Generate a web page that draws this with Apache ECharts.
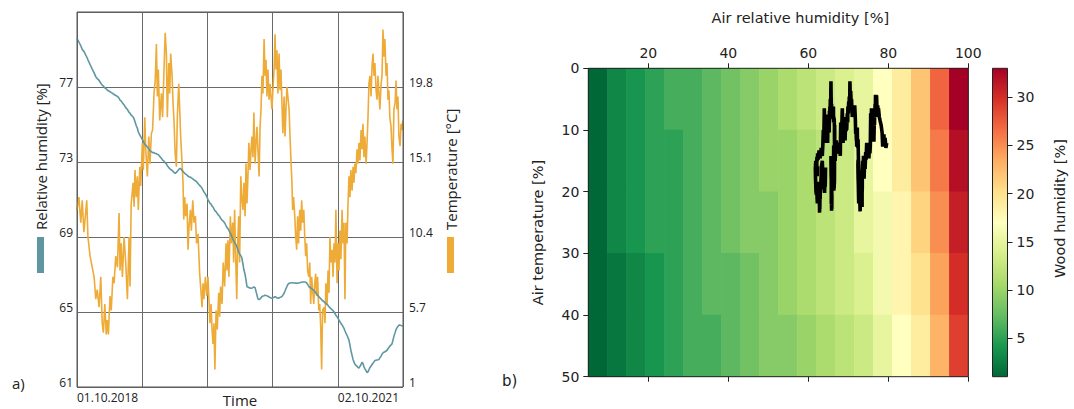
<!DOCTYPE html>
<html>
<head>
<meta charset="utf-8">
<title>Relative humidity, temperature and wood humidity</title>
<script src="https://cdn.jsdelivr.net/npm/echarts@6.0.0/dist/echarts.min.js"></script>
<style>
  html, body { margin: 0; padding: 0; background: #fff; }
  #chart { width: 1074px; height: 409px; }
</style>
</head>
<body>
<div id="chart"></div>
<script>
// ---- a) time series: days since 01.10.2018, relative humidity [%], temperature [°C]
const days = [
  0, 8, 16, 22, 29, 41, 46, 55, 64, 72, 79, 85, 93, 100, 106, 111, 117, 123, 127, 132,
  139, 144, 151, 156, 163, 170, 177, 181, 186, 191, 198, 205, 212, 219, 223, 228, 236, 240, 244, 249,
  254, 258, 264, 268, 275, 279, 285, 289, 296, 302, 307, 313, 318, 324, 329, 334, 338, 342, 348, 355,
  360, 366, 371, 376, 380, 386, 390, 394, 400, 404, 408, 413, 418, 422, 428, 432, 436, 442, 446, 449,
  453, 457, 463, 467, 471, 477, 481, 487, 492, 498, 503, 509, 516, 520, 526, 530, 534, 540, 546, 551,
  555, 559, 564, 568, 572, 576, 580, 585, 590, 596, 600, 604, 610, 615, 621, 627, 631, 635, 639, 645,
  649, 655, 659, 663, 668, 672, 676, 680, 684, 689, 693, 698, 702, 707, 711, 715, 719, 723, 728, 732,
  736, 740, 744, 749, 753, 757, 761, 766, 770, 774, 778, 782, 787, 791, 795, 799, 803, 808, 812, 816,
  820, 824, 829, 833, 837, 841, 845, 850, 854, 858, 862, 866, 871, 875, 879, 883, 887, 892, 896, 900,
  904, 907, 911, 916, 920, 924, 928, 932, 937, 941, 945, 949, 954, 958, 962, 966, 970, 975, 979, 983,
  987, 991, 996, 1000, 1004, 1008, 1012, 1017, 1021, 1025, 1029, 1033, 1039, 1043, 1047, 1052, 1056, 1060, 1064, 1068,
  1073, 1077, 1081, 1085, 1089, 1094, 1098, 1102, 1106, 1110, 1115, 1119, 1123, 1127, 1131, 1136, 1140, 1144, 1148, 1152,
  1157, 1161, 1165, 1169, 1173, 1178, 1182, 1186, 1190, 1195, 1199, 1203, 1207, 1211, 1216, 1220, 1224, 1228, 1232, 1237,
  1241, 1245, 1249, 1253, 1258, 1262, 1266, 1270, 1274, 1279, 1283, 1287, 1291, 1295, 1300, 1304, 1308, 1312, 1316, 1321,
  1325, 1329, 1333, 1338, 1342, 1346, 1350, 1354, 1359, 1363, 1367, 1370
];
const relHumidity = [
  79.6, 79.4, 79.2, 79.0, 78.9, 78.6, 78.45, 78.2, 77.95, 77.75, 77.55, 77.45, 77.35, 77.2, 77.1, 77.05, 76.95, 76.9, 76.85, 76.8,
  76.75, 76.7, 76.65, 76.6, 76.55, 76.5, 76.4, 76.3, 76.25, 76.15, 76.05, 75.9, 75.8, 75.65, 75.6, 75.5, 75.4, 75.3, 75.15, 74.95,
  74.8, 74.6, 74.45, 74.35, 74.2, 74.1, 73.95, 73.9, 73.8, 73.7, 73.6, 73.55, 73.5, 73.5, 73.45, 73.45, 73.4, 73.4, 73.3, 73.2,
  73.1, 73.05, 72.95, 72.9, 72.8, 72.7, 72.65, 72.6, 72.55, 72.5, 72.45, 72.4, 72.45, 72.5, 72.6, 72.65, 72.65, 72.55, 72.5, 72.45,
  72.4, 72.35, 72.3, 72.25, 72.2, 72.2, 72.15, 72.1, 72.05, 72.0, 71.95, 71.85, 71.75, 71.7, 71.6, 71.5, 71.4, 71.3, 71.15, 71.0,
  70.9, 70.8, 70.75, 70.65, 70.6, 70.5, 70.4, 70.35, 70.25, 70.15, 70.1, 70.0, 69.9, 69.85, 69.75, 69.6, 69.5, 69.45, 69.35, 69.2,
  69.1, 68.9, 68.8, 68.7, 68.6, 68.5, 68.35, 68.2, 68.1, 68.0, 67.9, 67.56, 67.25, 67.0, 66.7, 66.35, 66.33, 66.3, 66.28, 66.26,
  66.28, 66.3, 66.34, 66.3, 66.1, 65.9, 65.7, 65.66, 65.7, 65.76, 65.82, 65.85, 65.87, 65.9, 65.88, 65.86, 65.84, 65.8, 65.78, 65.75,
  65.73, 65.76, 65.79, 65.82, 65.79, 65.76, 65.74, 65.75, 65.78, 65.8, 65.82, 65.9, 66.0, 66.12, 66.25, 66.36, 66.47, 66.53, 66.55, 66.55,
  66.56, 66.56, 66.55, 66.55, 66.54, 66.53, 66.54, 66.55, 66.56, 66.58, 66.59, 66.6, 66.6, 66.6, 66.59, 66.55, 66.48, 66.36, 66.32, 66.28,
  66.25, 66.21, 66.17, 66.1, 66.03, 65.96, 65.89, 65.82, 65.77, 65.71, 65.66, 65.6, 65.55, 65.5, 65.45, 65.4, 65.35, 65.28, 65.23, 65.18,
  65.12, 65.07, 65.01, 64.92, 64.83, 64.75, 64.66, 64.57, 64.48, 64.4, 64.31, 64.22, 64.13, 64.0, 63.88, 63.75, 63.63, 63.5, 63.23, 62.96,
  62.69, 62.47, 62.34, 62.22, 62.15, 62.1, 62.05, 62.0, 62.1, 62.2, 62.32, 62.25, 62.08, 61.97, 61.87, 61.76, 61.81, 61.92, 62.03, 62.12,
  62.2, 62.27, 62.34, 62.41, 62.43, 62.44, 62.45, 62.47, 62.55, 62.65, 62.75, 62.82, 62.85, 62.88, 62.92, 62.96, 63.04, 63.11, 63.18, 63.25,
  63.3, 63.5, 63.7, 63.9, 64.07, 64.15, 64.23, 64.3, 64.3, 64.28, 64.26, 64.25
];
const temperature = [
  12.1, 12.9, 11.3, 12.7, 10.7, 12.7, 10.4, 9.2, 8.5, 7.9, 6.5, 7.1, 6.0, 7.9, 5.0, 4.4, 6.2, 4.3, 5.2, 4.3,
  6.7, 5.8, 7.9, 7.5, 9.2, 8.5, 11.9, 8.3, 10.0, 7.9, 10.4, 8.8, 6.5, 10.4, 7.3, 12.5, 13.8, 12.3, 14.6, 12.9,
  14.2, 12.1, 14.8, 13.6, 16.3, 14.6, 17.9, 15.9, 14.2, 16.7, 15.0, 16.9, 17.1, 19.4, 20.2, 22.5, 19.2, 20.9, 17.7, 19.4,
  17.9, 20.9, 23.2, 21.9, 17.9, 21.3, 19.4, 21.9, 20.5, 18.8, 17.7, 15.6, 14.8, 17.9, 20.0, 18.4, 16.7, 15.0, 13.8, 11.5,
  12.9, 11.7, 12.5, 9.6, 11.0, 12.1, 10.8, 12.7, 11.3, 11.7, 10.0, 10.6, 8.1, 7.3, 6.0, 7.5, 6.5, 7.9, 6.7, 7.9,
  6.5, 5.0, 6.2, 4.6, 3.7, 5.0, 2.1, 5.8, 4.6, 6.9, 5.4, 7.3, 6.2, 8.8, 7.3, 10.0, 8.3, 10.2, 7.9, 11.7,
  10.0, 11.3, 8.8, 12.1, 8.8, 6.5, 10.0, 11.7, 8.8, 14.2, 12.9, 12.1, 13.8, 11.7, 15.0, 12.5, 14.2, 16.3, 14.6, 15.9,
  16.7, 15.4, 18.2, 15.0, 16.3, 17.3, 15.9, 14.2, 17.3, 18.4, 20.5, 19.4, 22.8, 20.5, 21.5, 19.2, 20.9, 19.0, 20.0, 19.2,
  18.4, 19.6, 20.9, 23.1, 20.9, 22.1, 19.4, 21.9, 19.6, 20.9, 18.8, 16.9, 19.2, 16.7, 18.4, 19.8, 19.2, 18.4, 16.7, 15.2,
  13.8, 12.1, 12.9, 11.7, 10.4, 9.6, 11.7, 10.0, 12.1, 10.8, 12.7, 11.3, 12.1, 10.4, 9.2, 10.0, 8.3, 7.9, 8.8, 6.2,
  7.9, 7.1, 6.2, 7.5, 8.1, 6.7, 7.9, 5.8, 6.2, 4.8, 2.1, 5.8, 6.0, 5.0, 7.5, 6.2, 8.3, 6.9, 10.4, 8.8,
  9.6, 7.9, 10.0, 8.8, 12.1, 7.5, 10.0, 8.3, 10.8, 9.0, 12.1, 10.0, 11.3, 6.5, 11.3, 10.0, 12.5, 14.2, 12.9, 14.6,
  13.3, 14.8, 13.8, 15.0, 14.4, 15.9, 15.0, 16.3, 15.2, 17.1, 15.9, 17.5, 15.4, 16.7, 15.0, 16.3, 17.9, 20.0, 20.5, 19.2,
  21.1, 21.9, 20.5, 21.3, 19.6, 19.0, 20.5, 19.4, 18.4, 20.0, 20.5, 23.4, 21.7, 22.8, 20.5, 21.3, 19.0, 19.6, 17.9, 17.3,
  15.9, 15.0, 18.4, 18.8, 20.2, 18.4, 19.2, 16.7, 16.1, 17.5, 17.1, 17.7
];
const timeTickLabels = ['01.10.2018', '', '', '', '02.10.2021', ''];

// ---- b) wood humidity table: columns = air relative humidity, rows = air temperature
const airHumidityCats = ['5', '10', '15', '20', '25', '30', '35', '40', '45', '50',
  '55', '60', '65', '70', '75', '80', '85', '90', '95', '100'];
const airTempCats = ['0', '10', '20', '30', '40'];
const woodHumidity = [
  [1, 3, 4, 5, 6, 6, 7, 8, 9, 10, 11, 12, 13, 14, 15, 17, 19, 22, 27, 33],
  [1, 3, 4, 5, 5, 6, 7, 8, 9, 10, 10, 11, 12, 13, 15, 17, 19, 22, 26, 32],
  [1, 3, 4, 5, 5, 6, 7, 8, 9, 9, 10, 11, 12, 13, 15, 16, 18, 21, 25, 31],
  [1, 2, 3, 4, 5, 6, 7, 7, 8, 9, 10, 11, 12, 13, 14, 16, 18, 20, 24, 30],
  [1, 2, 3, 4, 5, 6, 6, 7, 8, 9, 9, 10, 11, 12, 13, 15, 17, 19, 23, 29]
];
const woodMin = 1;
const woodMax = 33;
const rhTicks = [20, 40, 60, 80, 100];
const woodTicks = [5, 10, 15, 20, 25, 30];
// RdYlGn reversed
const woodColors = ['#006837', '#1a9850', '#66bd63', '#a6d96a', '#d9ef8b', '#ffffbf',
  '#fee08b', '#fdae61', '#f46d43', '#d73027', '#a50026'];

const humColor = '#5e97a2';
const tempColor = '#eeab37';
const leftFont = 'Open Sans';
const rightFont = 'DejaVu Sans';
const ink = '#222';

const rhSeries = days.map((d, i) => [d, relHumidity[i]]);
const tempSeries = days.map((d, i) => [d, temperature[i]]);
const climatePath = days.map((d, i) => [relHumidity[i], temperature[i]]);
const cells = [];
woodHumidity.forEach((row, yi) => row.forEach((v, xi) => cells.push([xi, yi, v])));

const chart = echarts.init(document.getElementById('chart'), null, { renderer: 'svg' });

const option = {
  animation: false,
  textStyle: { fontFamily: rightFont, color: ink },
  grid: [
    { left: 77, top: 12, width: 326, height: 375, outerBoundsMode: 'none', show: true, borderColor: '#555', borderWidth: 1, z: 5 },
    { left: 588.3, top: 68.3, width: 380, height: 308.4, outerBoundsMode: 'none', show: true, borderColor: ink, borderWidth: 1, z: 5 },
    { left: 992.5, top: 68.3, width: 15, height: 308.4, outerBoundsMode: 'none', show: true, borderColor: ink, borderWidth: 1, z: 5 },
    { left: 588.3, top: 68.3, width: 380, height: 308.4, outerBoundsMode: 'none' }
  ],
  xAxis: [
    {
      gridIndex: 0, type: 'value', min: 0, max: 1371.25, interval: 274.25,
      axisLine: { show: false }, axisTick: { show: false },
      splitLine: { show: true, lineStyle: { color: '#6a6a6a', width: 1 } },
      axisLabel: {
        formatter: (v, i) => timeTickLabels[i] || '', align: 'left', margin: 4,
        fontFamily: leftFont, fontSize: 12, color: ink
      },
      name: 'Time', nameLocation: 'middle', nameGap: 5, nameMoveOverlap: false,
      nameTextStyle: { fontFamily: leftFont, fontSize: 15, lineHeight: 16, color: ink, verticalAlign: 'top' }
    },
    {
      gridIndex: 1, type: 'value', position: 'top', min: 5, max: 100,
      axisLine: { show: false }, splitLine: { show: false },
      axisTick: { show: true, length: 5, customValues: rhTicks, lineStyle: { color: ink } },
      axisLabel: { customValues: rhTicks, margin: 8, fontSize: 14, color: ink },
      name: 'Air relative humidity [%]', nameLocation: 'middle', nameGap: 43,
      nameTextStyle: { fontSize: 14.5, color: ink, padding: [0, 0, 0, 44] }
    },
    {
      gridIndex: 1, type: 'value', position: 'bottom', min: 5, max: 100,
      axisLine: { show: false }, splitLine: { show: false },
      axisTick: { show: true, length: 5, customValues: rhTicks, lineStyle: { color: ink } },
      axisLabel: { show: false, customValues: rhTicks }
    },
    { gridIndex: 2, type: 'category', data: ['wood'], show: false },
    { gridIndex: 3, type: 'category', data: airHumidityCats, show: false }
  ],
  yAxis: [
    {
      gridIndex: 0, type: 'value', position: 'left', min: 61, max: 81, interval: 4,
      axisLine: { show: false }, axisTick: { show: false },
      splitLine: { show: true, lineStyle: { color: '#6a6a6a', width: 1 } },
      axisLabel: {
        showMaxLabel: false, verticalAlign: 'bottom', lineHeight: 10, margin: 4,
        fontFamily: leftFont, fontSize: 12, color: ink
      }
    },
    {
      gridIndex: 0, type: 'value', position: 'right', min: 1, max: 24.5, interval: 4.7,
      axisLine: { show: false }, axisTick: { show: false }, splitLine: { show: false },
      axisLabel: {
        showMaxLabel: false, verticalAlign: 'bottom', lineHeight: 10, margin: 6,
        fontFamily: leftFont, fontSize: 12, color: ink
      }
    },
    {
      gridIndex: 1, type: 'value', min: 0, max: 50, interval: 10, inverse: true,
      axisLine: { show: false }, splitLine: { show: false },
      axisTick: { show: true, length: 5, lineStyle: { color: ink } },
      axisLabel: { margin: 9, fontSize: 14, color: ink },
      name: 'Air temperature [%]', nameLocation: 'middle', nameRotate: 90, nameGap: 43,
      nameTextStyle: { fontSize: 14.5, color: ink, padding: [0, 20, 0, 0] }
    },
    {
      gridIndex: 2, type: 'value', position: 'right', min: woodMin, max: woodMax,
      axisLine: { show: false }, splitLine: { show: false },
      axisTick: { show: true, length: 5, customValues: woodTicks, lineStyle: { color: ink } },
      axisLabel: { customValues: woodTicks, margin: 9, fontSize: 14, color: ink },
      name: 'Wood humidity [%]', nameLocation: 'middle', nameRotate: 90, nameGap: 45,
      nameTextStyle: { fontSize: 14.5, color: ink, padding: [0, 0, 0, 28] }
    },
    { gridIndex: 3, type: 'category', data: airTempCats, inverse: true, show: false }
  ],
  visualMap: {
    type: 'continuous', min: woodMin, max: woodMax, seriesIndex: 2, show: false,
    inRange: { color: woodColors }
  },
  series: [
    {
      name: 'Temperature', type: 'line', xAxisIndex: 0, yAxisIndex: 1, data: tempSeries,
      symbol: 'none', lineStyle: { color: tempColor, width: 1.6 }, z: 2
    },
    {
      name: 'Relative humidity', type: 'line', xAxisIndex: 0, yAxisIndex: 0, data: rhSeries,
      symbol: 'none', lineStyle: { color: humColor, width: 1.6 }, z: 3
    },
    {
      name: 'Wood humidity', type: 'heatmap', xAxisIndex: 4, yAxisIndex: 4, data: cells,
      progressive: 0, emphasis: { disabled: true }, z: 1
    },
    {
      name: 'Air climate', type: 'line', xAxisIndex: 1, yAxisIndex: 2, data: climatePath,
      symbol: 'none', lineStyle: { color: '#000', width: 3.6 }, z: 8
    },
    {
      type: 'bar', xAxisIndex: 3, yAxisIndex: 3, stack: 'bar', data: [woodMin],
      barWidth: '100%', itemStyle: { color: 'rgba(0,0,0,0)' }, silent: true
    },
    {
      name: 'Colour scale', type: 'bar', xAxisIndex: 3, yAxisIndex: 3, stack: 'bar', data: [woodMax - woodMin],
      barWidth: '100%', silent: true,
      itemStyle: {
        color: {
          type: 'linear', x: 0, y: 1, x2: 0, y2: 0,
          colorStops: woodColors.map((c, i) => ({ offset: i / (woodColors.length - 1), color: c }))
        }
      }
    }
  ],
  graphic: [
    { type: 'text', left: 12, top: 375, style: { text: 'a)', fontFamily: leftFont, fontSize: 15, fill: ink } },
    { type: 'text', left: 502, top: 373, style: { text: 'b)', fontFamily: rightFont, fontSize: 15, fill: ink } },
    {
      type: 'group', x: 40.5, y: 273, rotation: Math.PI / 2,
      children: [
        { type: 'rect', shape: { x: 0, y: -3.5, width: 36, height: 7 }, style: { fill: humColor } },
        {
          type: 'text', x: 43, y: 0,
          style: { text: 'Relative humidity [%]', fontFamily: leftFont, fontSize: 15, fill: ink, align: 'left', verticalAlign: 'middle' }
        }
      ]
    },
    {
      type: 'group', x: 450.5, y: 273, rotation: Math.PI / 2,
      children: [
        { type: 'rect', shape: { x: 0, y: -3.5, width: 36, height: 7 }, style: { fill: tempColor } },
        {
          type: 'text', x: 43, y: 0,
          style: { text: 'Temperature [°C]', fontFamily: leftFont, fontSize: 15, fill: ink, align: 'left', verticalAlign: 'middle' }
        }
      ]
    }
  ]
};

chart.setOption(option);
</script>
</body>
</html>
